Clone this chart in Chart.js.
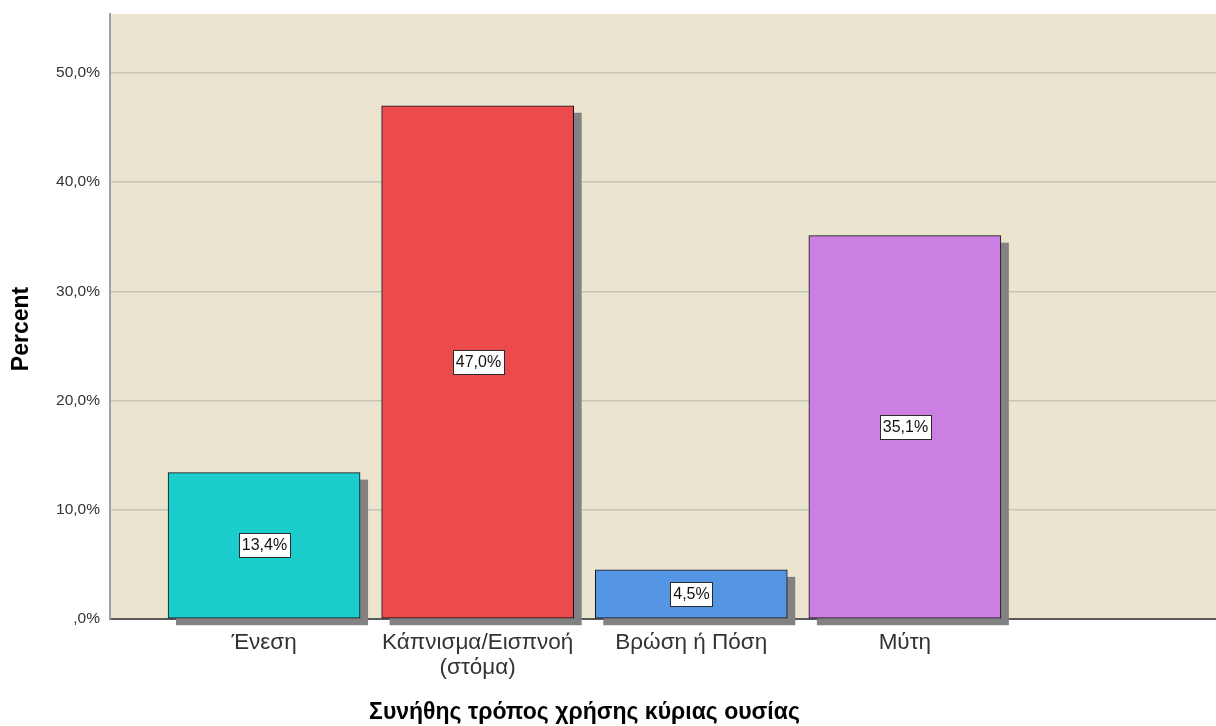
<!DOCTYPE html>
<html>
<head>
<meta charset="utf-8">
<script src="https://cdn.jsdelivr.net/npm/chart.js@4"></script>
<style>
  html, body { margin: 0; padding: 0; background: #ffffff; }
  #wrap { width: 1216px; height: 726px; }
</style>
</head>
<body>
<div id="wrap"><canvas id="chart" width="1216" height="726"></canvas></div>
<script>
let categories = ['Ένεση', ['Κάπνισμα/Εισπνοή', '(στόμα)'], 'Βρώση ή Πόση', 'Μύτη'];
let percents = [13.4, 47.0, 4.5, 35.1];
let bar_colors = ['#1ccdcd', '#ec4b4e', '#5596e4', '#cb7fe3'];
let y_ticks = [0, 10, 20, 30, 40, 50];
let x_title = 'Συνήθης τρόπος χρήσης κύριας ουσίας';
let y_title = 'Percent';

const FONT = '"Liberation Sans", Arial, sans-serif';

function pct(v) {
    if (v === 0) return ',0%';
    return v.toFixed(1).replace('.', ',') + '%';
}

// beige plot background
const plotBackground = {
    id: 'plotBackground',
    beforeDraw(chart) {
        const {ctx, chartArea: a} = chart;
        ctx.save();
        ctx.fillStyle = '#ebe5d0';
        ctx.fillRect(a.left, a.top, a.right - a.left, a.bottom - a.top);
        ctx.restore();
    }
};

// grey drop shadow behind each bar
const barShadows = {
    id: 'barShadows',
    beforeDatasetsDraw(chart) {
        const ctx = chart.ctx;
        ctx.save();
        ctx.fillStyle = '#828282';
        for (const bar of chart.getDatasetMeta(0).data) {
            ctx.fillRect(bar.x - bar.width / 2 + 8, bar.y + 7, bar.width, bar.base - bar.y);
        }
        ctx.restore();
    }
};

// boxed value labels in the middle of each bar
const valueBoxes = {
    id: 'valueBoxes',
    afterDatasetsDraw(chart) {
        const ctx = chart.ctx;
        ctx.save();
        ctx.font = '16px ' + FONT;
        ctx.textAlign = 'center';
        ctx.textBaseline = 'middle';
        chart.getDatasetMeta(0).data.forEach((bar, i) => {
            const text = pct(percents[i]);
            const w = Math.round(ctx.measureText(text).width + 6);
            const h = 24;
            const cx = Math.round(bar.x);
            const cy = Math.round((bar.y + bar.base) / 2);
            const x0 = Math.round(cx - w / 2);
            ctx.fillStyle = '#ffffff';
            ctx.fillRect(x0, cy - h / 2, w, h);
            ctx.strokeStyle = '#2a2a2a';
            ctx.lineWidth = 1;
            ctx.strokeRect(x0 + 0.5, cy - h / 2 + 0.5, w, h);
            ctx.fillStyle = '#111111';
            ctx.fillText(text, cx + 0.5, cy + 1);
        });
        ctx.restore();
    }
};

// axis titles
const axisTitles = {
    id: 'axisTitles',
    afterDraw(chart) {
        const ctx = chart.ctx;
        const xs = chart.scales.x;
        ctx.save();
        ctx.fillStyle = '#000000';
        ctx.font = 'bold 23px ' + FONT;
        ctx.textAlign = 'center';
        ctx.textBaseline = 'middle';
        const left = xs.getPixelForValue(-0.5);
        const right = xs.getPixelForValue(categories.length - 0.5);
        ctx.fillText(x_title, (left + right) / 2, 713);
        ctx.translate(22, 329);
        ctx.rotate(-Math.PI / 2);
        ctx.fillText(y_title, 0, 0);
        ctx.restore();
    }
};

new Chart(document.getElementById('chart'), {
    type: 'bar',
    data: {
        datasets: [{
            data: percents.map((v, i) => ({x: i, y: v})),
            backgroundColor: bar_colors,
            borderColor: '#111111',
            borderWidth: 1,
            borderSkipped: false,
            barThickness: 192,
        }]
    },
    options: {
        responsive: false,
        animation: false,
        layout: {padding: {top: 14, right: 0, left: 0, bottom: 0}},
        plugins: {
            legend: {display: false},
            tooltip: {enabled: false},
        },
        scales: {
            x: {
                type: 'linear',
                offset: false,
                min: -0.7213,
                max: 4.4567,
                afterBuildTicks: scale => {
                    scale.ticks = categories.map((c, i) => ({value: i}));
                },
                afterFit: scale => {
                    scale.height = 107;
                    scale.paddingLeft = 0;
                    scale.paddingRight = 0;
                },
                grid: {display: false, drawTicks: false, offset: false},
                border: {display: true, color: '#5a5a5a', width: 2},
                ticks: {
                    autoSkip: false,
                    maxRotation: 0,
                    padding: 11,
                    color: '#333333',
                    font: {family: FONT, size: 22.5, lineHeight: 1.11},
                    callback: v => categories[v],
                }
            },
            y: {
                min: 0,
                max: 55.4,
                afterBuildTicks: scale => {
                    scale.ticks = y_ticks.map(v => ({value: v}));
                },
                afterFit: scale => {
                    scale.width = 110;
                    scale.paddingTop = 0;
                    scale.paddingBottom = 0;
                },
                grid: {
                    color: ctx => ctx.tick && ctx.tick.value === 0 ? 'rgba(0,0,0,0)' : '#c8c4b5',
                    lineWidth: 1.5,
                    drawTicks: false,
                },
                border: {display: true, color: '#a0a0a0', width: 2},
                ticks: {
                    padding: 10,
                    color: '#333333',
                    font: {family: FONT, size: 15.5},
                    callback: v => pct(v),
                }
            }
        }
    },
    plugins: [plotBackground, barShadows, valueBoxes, axisTitles]
});
</script>
</body>
</html>
